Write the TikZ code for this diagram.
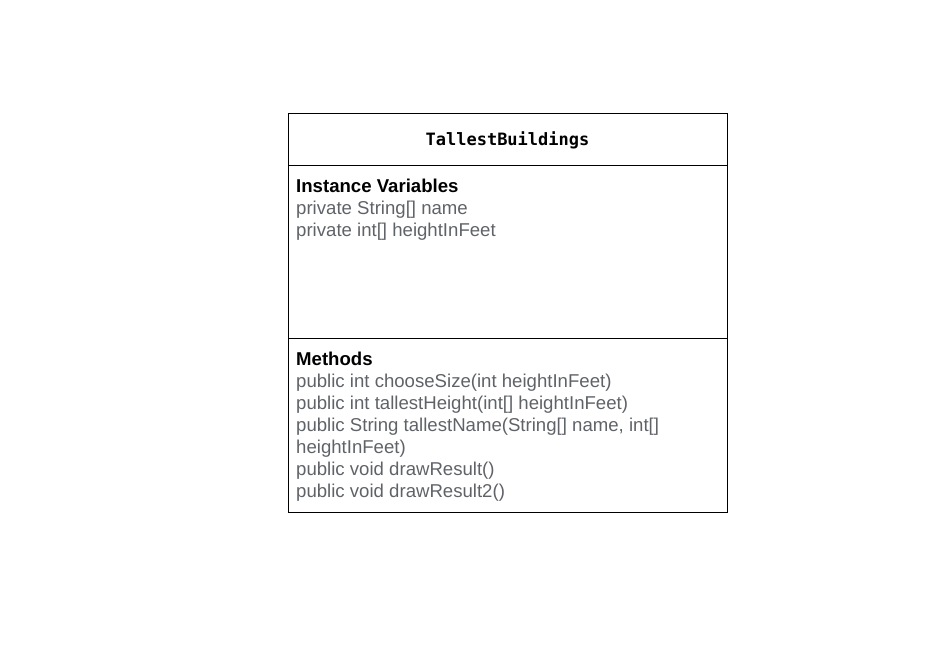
\documentclass[tikz,border=0pt]{standalone}
\usepackage{fontspec}
\setmainfont{Liberation Sans}
\newfontfamily\codefont{DejaVu Sans Mono}
\definecolor{membergray}{HTML}{5F6368}

\begin{document}
\begin{tikzpicture}[x=1pt,y=-1pt,
    part/.style={draw,line width=0.9pt,minimum width=439pt,inner sep=0pt,outer sep=0pt,anchor=north west},
    heading/.style={anchor=base west,inner sep=0pt,font=\fontsize{18.6}{22}\selectfont\bfseries},
    member/.style={anchor=base west,inner sep=0pt,text=membergray,font=\fontsize{18.6}{22}\selectfont}]
  \useasboundingbox (0,0) rectangle (945,648);

  % class box
  \node[part,minimum height=52pt] (title) at (288,113) {};
  \node[part,minimum height=173pt] (vars) at (title.south west) {};
  \node[part,minimum height=174pt] (methods) at (vars.south west) {};
  \node[font={\codefont\bfseries\fontsize{17}{20}\selectfont}] (classname) at ([yshift=-1.5pt]title.center) {TallestBuildings};

  % instance variables
  \node[heading] (varshead) at ([xshift=8pt,yshift=-27pt]vars.north west) {Instance Variables};
  \foreach[count=\i] \txt in {private String[] name,private int[] heightInFeet} {
    \node[member] (var\i) at ([yshift={-22pt*\i}]varshead.base west) {\txt};
  }

  % methods
  \node[heading] (methodshead) at ([xshift=8pt,yshift=-27pt]methods.north west) {Methods};
  \foreach[count=\i] \txt in {public int chooseSize(int heightInFeet),
      public int tallestHeight(int[] heightInFeet),
      {public String tallestName(String[] name, int[]},
      heightInFeet),
      public void drawResult(),
      public void drawResult2()} {
    \node[member] (method\i) at ([yshift={-22pt*\i}]methodshead.base west) {\txt};
  }
\end{tikzpicture}
\end{document}
